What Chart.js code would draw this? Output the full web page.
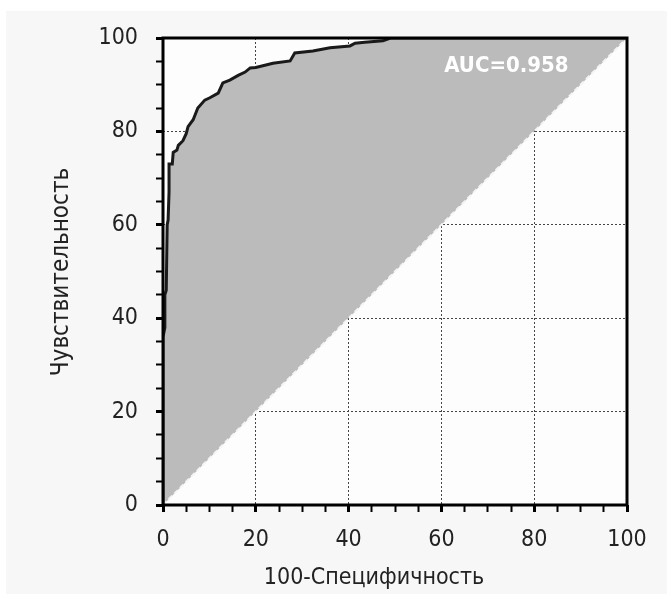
<!DOCTYPE html>
<html>
<head>
<meta charset="utf-8">
<title>ROC</title>
<script src="https://cdn.jsdelivr.net/npm/chart.js@4"></script>
<style>
  html, body { margin: 0; padding: 0; background: #fff; }
  canvas { display: block; }
</style>
</head>
<body>
<canvas id="roc" width="667" height="594"></canvas>
<script>
// ROC-кривая: 100-специфичность по X, чувствительность по Y
const fpr = [0, 0, 0.4, 0.4, 0.7, 0.9, 1.1, 1.3, 1.3, 2.0, 2.2, 3.0, 3.3, 4.3, 5.0, 5.4, 6.5, 7.5, 9.0, 10.1, 11.9, 12.9, 14.4, 16.2, 17.7, 18.8, 20.0, 23.7, 27.4, 28.4, 32.3, 36.0, 40.3, 41.4, 43.5, 47.4, 49.0, 100];
const tpr = [0, 36, 38, 45, 46, 60, 61, 67, 73, 73, 75.5, 76, 77, 78, 79.5, 81, 82.5, 85, 86.7, 87.2, 88.2, 90.4, 91, 92, 92.7, 93.6, 93.7, 94.6, 95.1, 96.8, 97.2, 97.9, 98.3, 98.9, 99.1, 99.4, 100, 100];
const diagX = [0, 100];
const diagY = [0, 100];
const auc = 0.958;
const xTitle = "100-Специфичность";
const yTitle = "Чувствительность";

const FONT = "'DejaVu Sans Condensed', 'DejaVu Sans', sans-serif";

const rocPoints = fpr.map((x, i) => ({ x, y: tpr[i] }));
const diagPoints = diagX.map((x, i) => ({ x, y: diagY[i] }));

// фон панели, рамка, подписи осей и AUC
const decor = {
  id: "decor",
  beforeDraw(chart) {
    const { ctx, chartArea: a } = chart;
    ctx.save();
    ctx.fillStyle = "#f7f7f7";
    ctx.fillRect(6, 11, chart.width - 6, chart.height - 11);
    ctx.fillStyle = "#fdfdfd";
    ctx.fillRect(a.left, a.top, a.right - a.left, a.bottom - a.top);
    ctx.restore();
  },
  afterDraw(chart) {
    const { ctx, chartArea: a, scales } = chart;
    ctx.save();
    ctx.strokeStyle = "#000";
    ctx.lineWidth = 3;
    ctx.strokeRect(a.left, a.top, a.right - a.left, a.bottom - a.top);

    ctx.fillStyle = "#fff";
    ctx.font = "bold 22px " + FONT;
    ctx.textBaseline = "middle";
    ctx.textAlign = "left";
    ctx.fillText("AUC=" + auc.toFixed(3), scales.x.getPixelForValue(60.6), scales.y.getPixelForValue(94));

    ctx.fillStyle = "#222";
    ctx.font = "23px " + FONT;
    ctx.textAlign = "center";
    ctx.fillText(xTitle, 374, 578);
    ctx.font = "24px " + FONT;
    ctx.translate(62, 272);
    ctx.rotate(-Math.PI / 2);
    ctx.fillText(yTitle, 0, 0);
    ctx.restore();
  },
};

const isMajor = (v) => v % 20 === 0;

function axis(fit, pad) {
  return {
    type: "linear",
    min: 0,
    max: 100,
    z: 1,
    afterFit: fit,
    ticks: {
      stepSize: 5,
      autoSkip: false,
      maxRotation: 0,
      minRotation: 0,
      padding: pad,
      color: "#222",
      font: { family: FONT, size: 23 },
      callback: (v) => (isMajor(v) ? v : ""),
    },
    grid: {
      color: (c) => (isMajor(c.tick.value) && c.tick.value > 0 && c.tick.value < 100 ? "#444" : "rgba(0,0,0,0)"),
      lineWidth: 1,
      tickColor: "#000",
      tickLength: 7,
      tickWidth: (c) => (isMajor(c.tick.value) ? 3 : 2),
    },
    border: { display: false, dash: [2, 2] },
  };
}

new Chart(document.getElementById("roc"), {
  type: "scatter",
  data: {
    datasets: [
      {
        data: rocPoints,
        showLine: true,
        borderColor: "#1a1a1a",
        borderWidth: 3,
        backgroundColor: "#bbbbbb",
        fill: "shape",
        pointRadius: 0,
      },
      {
        data: diagPoints,
        showLine: true,
        borderColor: "#f4f4f4",
        borderWidth: 2,
        borderDash: [5, 3],
        fill: false,
        pointRadius: 0,
      },
    ],
  },
  options: {
    responsive: false,
    animation: false,
    layout: { padding: { left: 0, top: 38, right: 40, bottom: 0 } },
    plugins: {
      legend: { display: false },
      tooltip: { enabled: false },
      filler: { drawTime: "beforeDatasetsDraw" },
    },
    scales: {
      x: axis((s) => { s.height = 89; }, 14),
      y: axis((s) => { s.width = 163; }, 18),
    },
  },
  plugins: [decor],
});
</script>
</body>
</html>
